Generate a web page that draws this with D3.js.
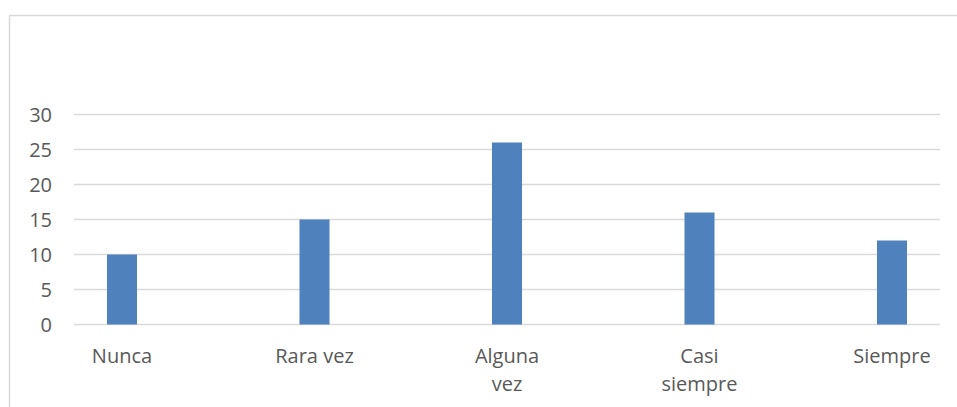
<!DOCTYPE html>
<html>
<head>
<meta charset="utf-8">
<script src="https://cdn.jsdelivr.net/npm/d3@7"></script>
<style>
  html, body { margin: 0; padding: 0; background: #fff; }
  svg { display: block; }
  text { font-family: "Open Sans", "Noto Sans", sans-serif; fill: #595959; }
</style>
</head>
<body>
<svg id="chart" width="957" height="407"></svg>
<script>
// Responses per frequency category
const categories = [["Nunca"], ["Rara vez"], ["Alguna", "vez"], ["Casi", "siempre"], ["Siempre"]];
const values = [10, 15, 26, 16, 12];
const yTicks = [0, 5, 10, 15, 20, 25, 30];

const svg = d3.select("#chart");

// Chart frame (runs past the right and bottom edges of the view)
svg.append("rect")
  .attr("x", 9.5).attr("y", 15.5)
  .attr("width", 1000).attr("height", 500)
  .attr("fill", "none")
  .attr("stroke", "#d9d9d9")
  .attr("stroke-width", 1.5);

const gridLeft = 74, gridRight = 940;
const keys = categories.map(c => c.join(" "));

const x = d3.scaleBand()
  .domain(keys)
  .range([25.75, 988.25])
  .paddingInner(0.844)
  .paddingOuter(0.422);

const y = d3.scaleLinear().domain([0, 30]).range([324.5, 114.5]);

// Horizontal gridlines
svg.append("g").selectAll("line")
  .data(yTicks)
  .join("line")
  .attr("x1", gridLeft).attr("x2", gridRight)
  .attr("y1", d => y(d)).attr("y2", d => y(d))
  .attr("stroke", "#d9d9d9")
  .attr("stroke-width", 1.5);

// Y axis labels
const yAxis = d3.axisLeft(y).tickValues(yTicks).tickSize(0).tickPadding(0);
const gy = svg.append("g").attr("transform", "translate(52,0)").call(yAxis);
gy.select(".domain").remove();
gy.selectAll("text")
  .attr("font-size", 20)
  .attr("font-family", null)
  .attr("fill", "#595959")
  .attr("dy", "0.36em");

// Bars
svg.append("g").selectAll("rect")
  .data(values)
  .join("rect")
  .attr("x", (d, i) => x(keys[i]))
  .attr("width", x.bandwidth())
  .attr("y", d => y(d))
  .attr("height", d => y(0) - y(d))
  .attr("fill", "#4f81bd");

// Category labels (wrapped onto two lines where needed)
const labels = svg.append("g").selectAll("text")
  .data(categories)
  .join("text")
  .attr("text-anchor", "middle")
  .attr("font-size", 20)
  .attr("x", (d, i) => x(keys[i]) + x.bandwidth() / 2)
  .attr("y", 363);
labels.selectAll("tspan")
  .data(d => d)
  .join("tspan")
  .attr("x", function () { return d3.select(this.parentNode).attr("x"); })
  .attr("dy", (d, i) => i === 0 ? 0 : 27.5)
  .text(d => d);
</script>
</body>
</html>
